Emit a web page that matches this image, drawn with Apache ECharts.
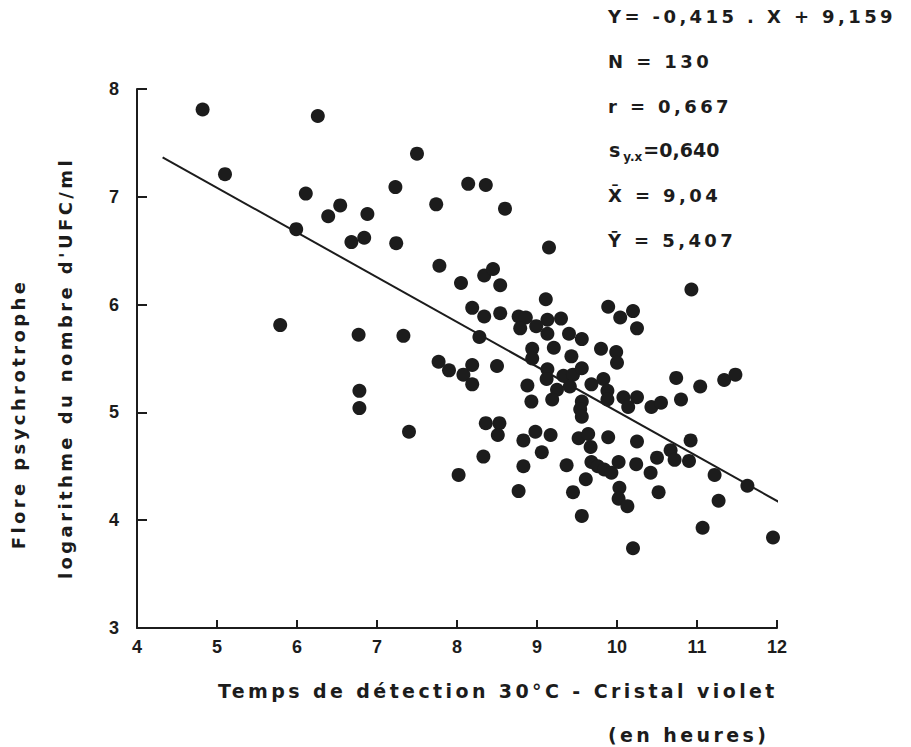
<!DOCTYPE html>
<html>
<head>
<meta charset="utf-8">
<script src="https://cdn.jsdelivr.net/npm/echarts@6/dist/echarts.min.js"></script>
<style>
html,body{margin:0;padding:0;background:#fff;}
#chart{width:911px;height:747px;}
#chart text[style*="DejaVu"], #chart text[font-family*="DejaVu"], #chart tspan[style*="DejaVu"] {letter-spacing:3.4px;}
</style>
</head>
<body>
<div id="chart"></div>
<script>
// Detection time (hours) for each sample
var detectionHours = [4.82,5.10,6.26,6.11,6.39,6.54,5.99,7.50,7.23,8.14,8.36,6.88,7.74,8.60,6.68,6.84,7.24,9.15,7.78,8.05,
  8.34,8.45,8.54,9.11,8.19,8.34,8.54,8.77,8.86,9.13,9.30,8.79,8.99,9.13,6.77,7.33,8.28,8.94,9.21,8.94,
  7.77,7.90,8.08,8.19,8.50,8.19,9.13,9.12,9.25,8.88,8.93,9.19,6.78,6.78,7.40,8.36,8.53,8.51,8.98,8.83,
  9.17,9.06,8.33,8.83,9.52,9.64,9.67,8.02,9.37,9.68,9.76,9.61,8.77,9.45,9.56,9.89,10.25,10.92,10.67,10.72,
  10.90,10.50,9.84,9.93,10.02,10.24,10.42,10.03,10.02,10.13,10.52,11.22,11.63,11.27,11.07,11.95,10.20,10.93,9.89,10.20,
  10.04,10.25,9.40,9.56,9.43,9.80,9.99,10.00,9.33,9.45,9.56,9.41,9.68,9.83,9.88,9.88,9.56,9.54,9.56,10.08,
  10.25,10.14,10.43,10.55,10.74,11.04,11.34,11.48,10.80,5.79];
// log10 of UFC/ml for each sample
var logCounts = [7.81,7.21,7.75,7.03,6.82,6.92,6.70,7.40,7.09,7.12,7.11,6.84,6.93,6.89,6.58,6.62,6.57,6.53,6.36,6.20,
  6.27,6.33,6.18,6.05,5.97,5.89,5.92,5.89,5.88,5.86,5.87,5.78,5.80,5.73,5.72,5.71,5.70,5.59,5.60,5.50,
  5.47,5.39,5.35,5.44,5.43,5.26,5.40,5.31,5.21,5.25,5.10,5.12,5.20,5.04,4.82,4.90,4.90,4.79,4.82,4.74,
  4.79,4.63,4.59,4.50,4.76,4.80,4.68,4.42,4.51,4.54,4.50,4.38,4.27,4.26,4.04,4.77,4.73,4.74,4.65,4.56,
  4.55,4.58,4.47,4.44,4.54,4.52,4.44,4.30,4.20,4.13,4.26,4.42,4.32,4.18,3.93,3.84,3.74,6.14,5.98,5.94,
  5.88,5.78,5.73,5.68,5.52,5.59,5.56,5.46,5.34,5.35,5.41,5.24,5.26,5.31,5.20,5.12,5.10,5.03,4.96,5.14,
  5.14,5.05,5.05,5.09,5.32,5.24,5.30,5.35,5.12,5.81];
// Regression line endpoints (X, Y)
var lineX = [4.32, 12.12];
var lineY = [7.366, 4.129];
var xTicks = [4,5,6,7,8,9,10,11,12];
var yTicks = [3,4,5,6,7,8];
var statLines = ['Y= -0,415 . X + 9,159','N = 130','r = 0,667','s_y.x=0,640','X\u0304 = 9,04','Y\u0304 = 5,407'];
var xTitle = 'Temps de détection 30°C - Cristal violet';
var xTitle2 = '(en heures)';
var yTitle1 = 'Flore psychrotrophe';
var yTitle2 = "logarithme du nombre d'UFC/ml";

var points = detectionHours.map(function(x,i){return [x, logCounts[i]];});
var linePts = lineX.map(function(x,i){return [x, lineY[i]];});

var chart = echarts.init(document.getElementById('chart'), null, {renderer:'svg'});
var ink = '#1c1c1c';
var F = 'DejaVu Sans';
var F2 = 'Dejavu Sans'; // same face, not letter-spaced (rich text)
var statY = [18, 63, 108, 152, 197, 242];
var graphics = [];
statLines.forEach(function(t,i){
  if (t.indexOf('s_y.x') === 0) {
    graphics.push({type:'text', left:609, top:statY[i]-12, style:{
      text:'{a|s}{b|y.x}{c|=0,640}', rich:{
        a:{fontFamily:F2,fontWeight:'bold',fontSize:19,fill:ink,padding:[0,3,0,0]},
        b:{fontFamily:F2,fontWeight:'bold',fontSize:12,fill:ink,padding:[14,1,0,0]},
        c:{fontFamily:F2,fontWeight:'bold',fontSize:19,fill:ink}}}});
  } else {
    graphics.push({type:'text', left:608, top:statY[i]-11, style:{text:t, fontFamily:F, fontWeight:'bold', fontSize:18, fill:ink}});
  }
});
graphics.push({type:'text', left:218, top:681, style:{text:xTitle, fontFamily:F, fontWeight:'bold', fontSize:19, fill:ink}});
graphics.push({type:'text', left:608, top:725, style:{text:xTitle2, fontFamily:F, fontWeight:'bold', fontSize:19, fill:ink}});
graphics.push({type:'text', x:18, y:414, rotation:Math.PI/2, style:{text:yTitle1, fontFamily:F, fontWeight:'bold', fontSize:18, fill:ink, align:'center', verticalAlign:'middle'}});
graphics.push({type:'text', x:65, y:368, rotation:Math.PI/2, style:{text:yTitle2, fontFamily:F, fontWeight:'bold', fontSize:18, fill:ink, align:'center', verticalAlign:'middle'}});

var option = {
  backgroundColor:'#ffffff',
  animation:false,
  grid:{left:137, right:134, top:89, bottom:119},
  xAxis:{type:'value', min:4, max:12, interval:1,
    axisLine:{onZero:false, lineStyle:{color:ink, width:2}},
    axisTick:{inside:true, length:8, lineStyle:{color:ink, width:2}},
    splitLine:{show:false},
    axisLabel:{margin:10, fontFamily:'Liberation Sans', fontWeight:'bold', fontSize:18, color:ink}},
  yAxis:{type:'value', min:3, max:8, interval:1,
    axisLine:{onZero:false, lineStyle:{color:ink, width:2}},
    axisTick:{inside:true, length:10, lineStyle:{color:ink, width:2}},
    splitLine:{show:false},
    axisLabel:{margin:18, fontFamily:'Liberation Sans', fontWeight:'bold', fontSize:18, color:ink}},
  series:[
    {type:'scatter', data:points, symbolSize:14, itemStyle:{color:ink, opacity:1}, z:3},
    {type:'line', data:linePts, clip:false, showSymbol:false, symbol:'none', lineStyle:{color:ink, width:2}, z:2}
  ],
  graphic:graphics
};
chart.setOption(option);
</script>
</body>
</html>
